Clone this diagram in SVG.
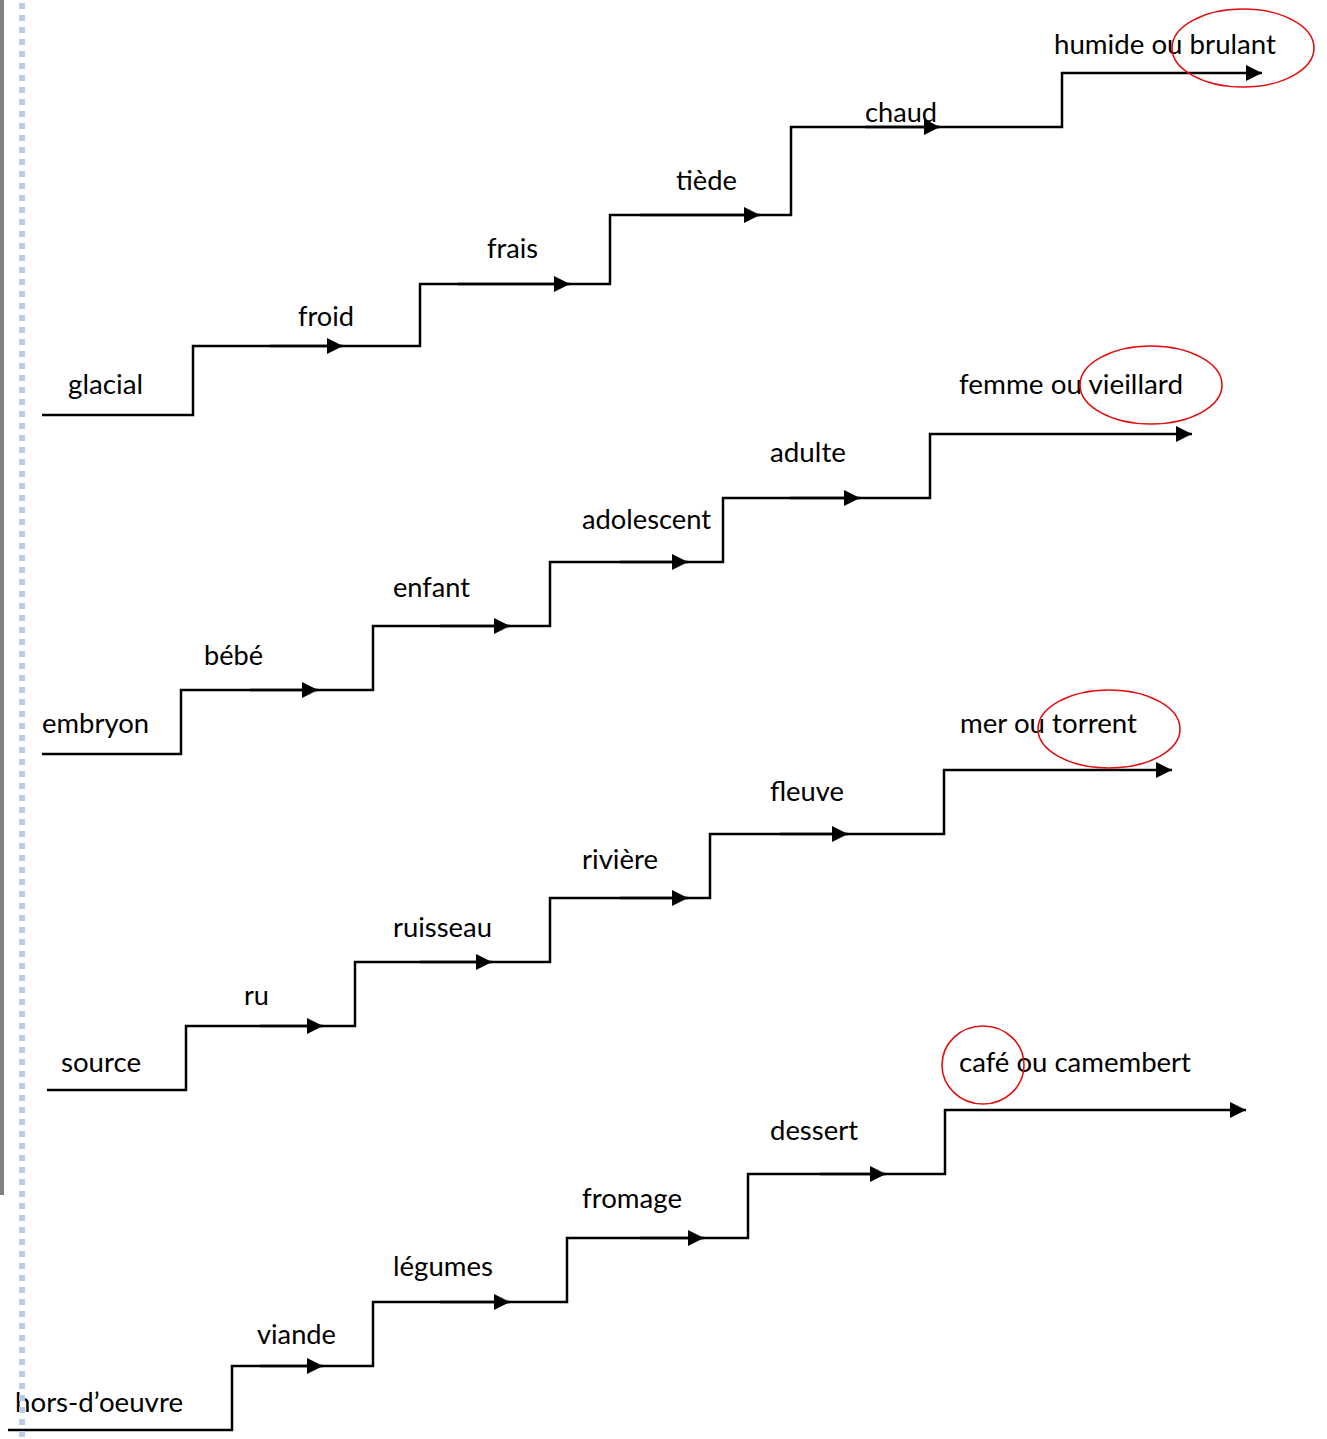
<svg xmlns="http://www.w3.org/2000/svg" width="1327" height="1439" viewBox="0 0 1327 1439">
<defs>
<marker id="arr" markerUnits="userSpaceOnUse" markerWidth="17" markerHeight="17" refX="16" refY="8" orient="auto" viewBox="0 0 17 17">
<path d="M0,0 L16,8 L0,16 z" fill="#000"/>
</marker>
<style>
text{font-family:Lato,"Liberation Sans",sans-serif;font-size:26px;fill:#000}
.c{fill:none;stroke:#000;stroke-width:2.5}
.a{marker-end:url(#arr)}
.o{fill:none;stroke:#e01010;stroke-width:1.6}
</style>
</defs>
<rect x="0" y="0" width="4" height="1195" fill="#808080"/>
<g id="connectors">
<path class="c a" d="M42,415 H193 V346 H343"/>
<path class="c a" d="M270,346 H420 V284 H570"/>
<path class="c a" d="M458,284 H610 V215 H760"/>
<path class="c a" d="M640,215 H791 V127 H940"/>
<path class="c a" d="M865,127 H1062 V73 H1262"/>
<path class="c a" d="M42,754 H181 V690 H318"/>
<path class="c a" d="M250,690 H373 V626 H510"/>
<path class="c a" d="M440,626 H550 V562 H688"/>
<path class="c a" d="M620,562 H723 V498 H860"/>
<path class="c a" d="M790,498 H930 V434 H1192"/>
<path class="c a" d="M47,1090 H186 V1026 H323"/>
<path class="c a" d="M260,1026 H355 V962 H492"/>
<path class="c a" d="M420,962 H550 V898 H688"/>
<path class="c a" d="M620,898 H710 V834 H848"/>
<path class="c a" d="M780,834 H944 V770 H1172"/>
<path class="c a" d="M8,1430 H232 V1366 H323"/>
<path class="c a" d="M260,1366 H373 V1302 H510"/>
<path class="c a" d="M440,1302 H567 V1238 H704"/>
<path class="c a" d="M640,1238 H748 V1174 H886"/>
<path class="c a" d="M820,1174 H945 V1110 H1246"/>
</g>
<g id="n-glacial"><text x="68" y="394" textLength="75" lengthAdjust="spacingAndGlyphs">glacial</text></g>
<g id="n-froid"><text x="298" y="326" textLength="56" lengthAdjust="spacingAndGlyphs">froid</text></g>
<g id="n-frais"><text x="487" y="258" textLength="51" lengthAdjust="spacingAndGlyphs">frais</text></g>
<g id="n-tiede"><text x="676" y="190" textLength="61" lengthAdjust="spacingAndGlyphs">tiède</text></g>
<g id="n-chaud"><text x="865" y="122" textLength="72" lengthAdjust="spacingAndGlyphs">chaud</text></g>
<g id="n-humide"><text x="1054" y="54" textLength="222" lengthAdjust="spacingAndGlyphs">humide ou brulant</text><ellipse class="o" cx="1243" cy="48" rx="71" ry="39"/></g>
<g id="n-embryon"><text x="42" y="733" textLength="107" lengthAdjust="spacingAndGlyphs">embryon</text></g>
<g id="n-bebe"><text x="204" y="665" textLength="59" lengthAdjust="spacingAndGlyphs">bébé</text></g>
<g id="n-enfant"><text x="393" y="597" textLength="77" lengthAdjust="spacingAndGlyphs">enfant</text></g>
<g id="n-adolescent"><text x="582" y="529" textLength="129" lengthAdjust="spacingAndGlyphs">adolescent</text></g>
<g id="n-adulte"><text x="770" y="462" textLength="76" lengthAdjust="spacingAndGlyphs">adulte</text></g>
<g id="n-femme"><text x="959" y="394" textLength="224" lengthAdjust="spacingAndGlyphs">femme ou vieillard</text><ellipse class="o" cx="1151" cy="385" rx="71" ry="39"/></g>
<g id="n-source"><text x="61" y="1072" textLength="80" lengthAdjust="spacingAndGlyphs">source</text></g>
<g id="n-ru"><text x="244" y="1005" textLength="25" lengthAdjust="spacingAndGlyphs">ru</text></g>
<g id="n-ruisseau"><text x="393" y="937" textLength="99" lengthAdjust="spacingAndGlyphs">ruisseau</text></g>
<g id="n-riviere"><text x="582" y="869" textLength="76" lengthAdjust="spacingAndGlyphs">rivière</text></g>
<g id="n-fleuve"><text x="770" y="801" textLength="74" lengthAdjust="spacingAndGlyphs">fleuve</text></g>
<g id="n-mer"><text x="960" y="733" textLength="177" lengthAdjust="spacingAndGlyphs">mer ou torrent</text><ellipse class="o" cx="1109" cy="729" rx="71" ry="39"/></g>
<g id="n-horsdoeuvre"><text x="15" y="1412" textLength="168" lengthAdjust="spacingAndGlyphs">hors-d’oeuvre</text></g>
<g id="n-viande"><text x="257" y="1344" textLength="79" lengthAdjust="spacingAndGlyphs">viande</text></g>
<g id="n-legumes"><text x="393" y="1276" textLength="100" lengthAdjust="spacingAndGlyphs">légumes</text></g>
<g id="n-fromage"><text x="582" y="1208" textLength="100" lengthAdjust="spacingAndGlyphs">fromage</text></g>
<g id="n-dessert"><text x="770" y="1140" textLength="88" lengthAdjust="spacingAndGlyphs">dessert</text></g>
<g id="n-cafe"><text x="959" y="1072" textLength="232" lengthAdjust="spacingAndGlyphs">café ou camembert</text><ellipse class="o" cx="983" cy="1065" rx="41" ry="39"/></g>
<line x1="22" y1="3" x2="22" y2="1439" stroke="#b8cce4" stroke-width="6" stroke-dasharray="6 6"/>
</svg>
